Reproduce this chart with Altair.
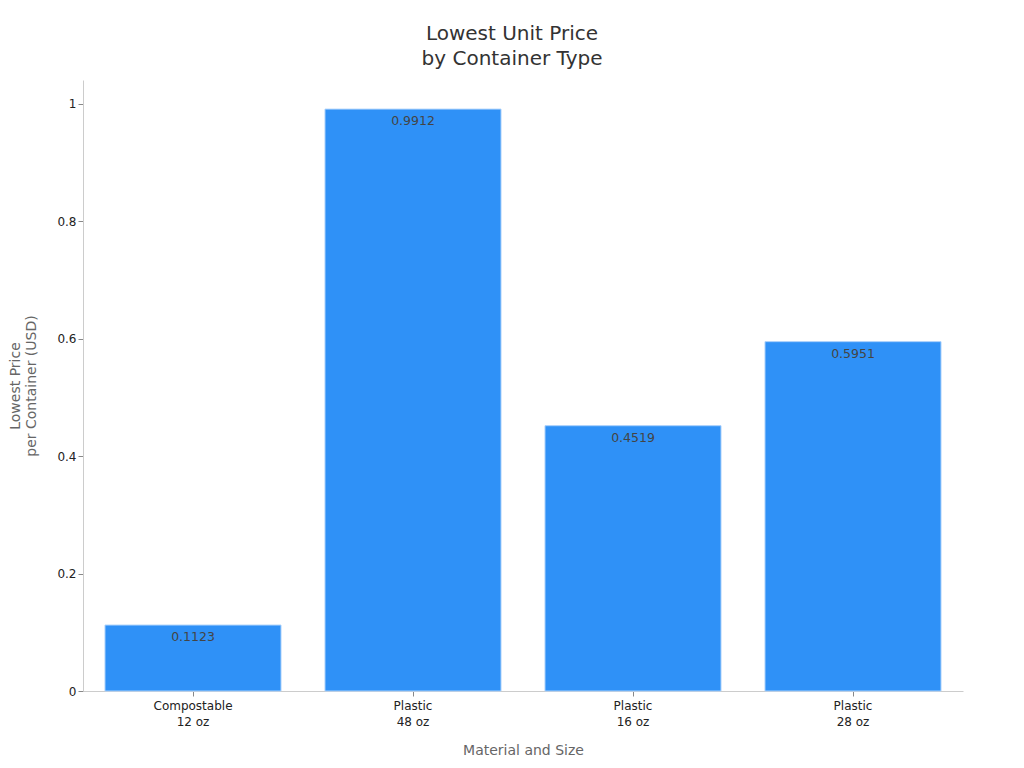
import altair as alt
import pandas as pd

categories = ["Compostable\n12 oz", "Plastic\n48 oz", "Plastic\n16 oz", "Plastic\n28 oz"]
prices = [0.1123, 0.9912, 0.4519, 0.5951]

df = pd.DataFrame({"cat": categories, "price": prices})
df["label"] = df["price"].map(lambda v: f"{v:.4f}")

FONT = "DejaVu Sans"

x = alt.X("cat:N", sort=categories, title="Material and Size",
          scale=alt.Scale(paddingInner=0.2, paddingOuter=0.1),
          axis=alt.Axis(labelExpr="split(datum.label, '\\n')", labelAngle=0,
                        labelFontSize=12, labelColor="#222", titleFontSize=14,
                        titleColor="#666", titleFontWeight="normal", titlePadding=16,
                        domainColor="#ccc", tickColor="#888", tickSize=5,
                        labelPadding=4, labelLineHeight=16))
y = alt.Y("price:Q", title=["Lowest Price", "per Container (USD)"],
          scale=alt.Scale(domain=[0, 1.0408], nice=False),
          axis=alt.Axis(values=[0, 0.2, 0.4, 0.6, 0.8, 1], format="~g", grid=False,
                        labelFontSize=12, labelColor="#222", titleFontSize=14,
                        titleColor="#666", titleFontWeight="normal", titlePadding=18,
                        titleLineHeight=16,
                        domainColor="#ccc", tickColor="#888", tickSize=5))

bars = alt.Chart(df).mark_bar(color="#2f91f7", stroke="#a9d0fb", strokeWidth=1).encode(x=x, y=y)
text = alt.Chart(df).mark_text(baseline="top", dy=6, fontSize=12.5, color="#444", font=FONT).encode(
    x=alt.X("cat:N", sort=categories), y="price:Q", text="label:N")

chart = (bars + text).properties(
    width=880, height=611,
    title=alt.TitleParams(["Lowest Unit Price", "by Container Type"], fontSize=20,
                          fontWeight="normal", color="#333", anchor="middle",
                          dx=-11, offset=11, lineHeight=25),
    padding={"left": 75, "top": 72, "right": 50, "bottom": 66},
    autosize=alt.AutoSizeParams(type="none"),
).configure(font=FONT).configure_view(stroke=None)

chart.save("out.html", embed_options={"renderer": "svg", "actions": False})
